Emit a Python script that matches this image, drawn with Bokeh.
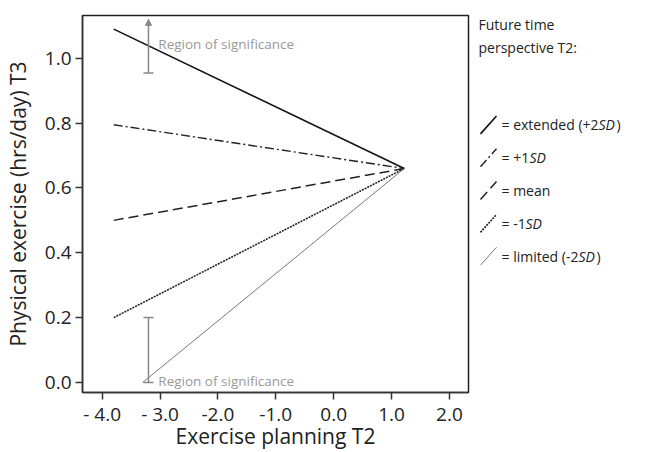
from bokeh.plotting import figure
from bokeh.layouts import row
from bokeh.models import Range1d, FixedTicker, Arrow, TeeHead, NormalHead, Label
from bokeh.embed import file_html
from bokeh.resources import INLINE

FONT = "Open Sans"

# Data
series_names = ["extended (+2SD)", "+1SD", "mean", "-1SD", "limited (-2SD)"]
x_start = [-3.8, -3.8, -3.8, -3.8, -3.3]
y_start = [1.09, 0.795, 0.50, 0.20, 0.0]
x_end = [1.22, 1.22, 1.22, 1.22, 1.22]
y_end = [0.66, 0.66, 0.66, 0.66, 0.66]

x_ticks = [-4, -3, -2, -1, 0, 1, 2]
x_tick_labels = ["- 4.0", "- 3.0", "-2.0", "-1.0", "0.0", "1.0", "2.0"]
y_ticks = [0.0, 0.2, 0.4, 0.6, 0.8, 1.0]

sig_x = [-3.2, -3.2]
sig_low = [0.955, 0.0]
sig_high = [1.12, 0.2]
sig_text_x = [-3.03, -3.03]
sig_text_y = [1.045, 0.005]

X0, X1 = -4.34, 2.33
Y0, Y1 = -0.031, 1.132
FL, FR, FT, FB = 82, 468, 15, 394  # intended frame in page pixels
W, H = 640, 452
MAIN_W = FR + 4

styles = [
    dict(line_color="#111111", line_width=1.6, line_dash="solid"),
    dict(line_color="#222222", line_width=1.4, line_dash="9 3 2 3"),
    dict(line_color="#222222", line_width=1.5, line_dash="10 5"),
    dict(line_color="#222222", line_width=1.6, line_dash="2 1"),
    dict(line_color="#777777", line_width=1.0, line_dash="solid"),
]

p = figure(width=MAIN_W, height=H, output_backend="svg", toolbar_location=None,
           x_range=Range1d(X0, X1), y_range=Range1d(Y0, Y1),
           min_border_left=FL, min_border_right=MAIN_W - FR, min_border_top=FT,
           min_border_bottom=H - FB)
p.grid.visible = False
p.outline_line_color = "#222222"
p.outline_line_width = 1.5
p.background_fill_color = "white"
p.border_fill_color = "white"

for i in range(5):
    p.line([x_start[i], x_end[i]], [y_start[i], y_end[i]], **styles[i])

# Region of significance markers
GRAY = "#888888"
p.add_layout(Arrow(x_start=sig_x[0], y_start=sig_low[0], x_end=sig_x[0], y_end=sig_high[0],
                   line_color=GRAY, line_width=1.5,
                   start=TeeHead(size=10, line_color=GRAY, line_width=1.5),
                   end=NormalHead(size=6, line_color=GRAY, fill_color=GRAY)))
p.add_layout(Arrow(x_start=sig_x[1], y_start=sig_low[1], x_end=sig_x[1], y_end=sig_high[1],
                   line_color=GRAY, line_width=1.5,
                   start=TeeHead(size=10, line_color=GRAY, line_width=1.5),
                   end=TeeHead(size=10, line_color=GRAY, line_width=1.5)))
for tx, ty in zip(sig_text_x, sig_text_y):
    p.add_layout(Label(x=tx, y=ty, text="Region of significance", text_font=FONT,
                       text_font_size="13.5px", text_color="#999999", text_baseline="middle"))

# Axes
p.xaxis.ticker = FixedTicker(ticks=x_ticks)
p.xaxis.major_label_overrides = {t: l for t, l in zip(x_ticks, x_tick_labels)}
p.yaxis.ticker = FixedTicker(ticks=y_ticks)
p.yaxis.major_label_overrides = {t: f"{t:.1f}" for t in y_ticks}
for ax in (p.xaxis, p.yaxis):
    ax.axis_line_color = "#333333"
    ax.axis_line_width = 1.5
    ax.major_tick_line_color = "#333333"
    ax.major_tick_line_width = 1.5
    ax.major_tick_out = 7
    ax.major_tick_in = 0
    ax.minor_tick_line_color = None
    ax.major_label_text_font = FONT
    ax.major_label_text_font_size = "19px"
    ax.major_label_text_color = "#222222"
    ax.axis_label_text_font = FONT
    ax.axis_label_text_font_size = "21px"
    ax.axis_label_text_font_style = "normal"
    ax.axis_label_text_color = "#222222"
p.xaxis.axis_label = "Exercise planning T2"
p.yaxis.axis_label = "Physical exercise (hrs/day) T3"
p.xaxis.major_label_standoff = 1
p.xaxis.axis_label_standoff = -8
p.yaxis.major_label_standoff = 4
p.yaxis.axis_label_standoff = 10

# Legend panel (page-pixel coordinates)
LEG_FS = "14px"
leg_prefix = ["= extended (+2", "= +1", "= mean", "= -1", "= limited (-2"]
leg_italic = ["SD", "SD", "", "SD", "SD"]
leg_suffix = [")", "", "", "", ")"]
leg_sd_offset = [97, 28, 0, 24, 77]
leg_py = [125, 158, 191, 224, 257]

lg = figure(width=W - MAIN_W, height=H, output_backend="svg", toolbar_location=None,
            x_range=Range1d(MAIN_W, W), y_range=Range1d(FB, FT),
            x_axis_location=None, y_axis_location=None,
            min_border_left=0, min_border_right=0, min_border_top=FT, min_border_bottom=H - FB)
lg.grid.visible = False
lg.outline_line_color = None
lg.border_fill_color = "white"

lg.add_layout(Label(x=478, y=24, text="Future time", text_font=FONT, text_font_size=LEG_FS,
                    text_color="#222222", text_baseline="middle"))
lg.add_layout(Label(x=478, y=47, text="perspective T2:", text_font=FONT, text_font_size=LEG_FS,
                    text_color="#222222", text_baseline="middle"))
for i in range(5):
    yy = leg_py[i]
    lg.line([480, 496], [yy + 9, yy - 9], **styles[i])
    tx = 501
    lg.add_layout(Label(x=tx, y=yy, text=leg_prefix[i], text_font=FONT, text_font_size=LEG_FS,
                        text_color="#222222", text_baseline="middle"))
    if leg_italic[i]:
        lg.add_layout(Label(x=tx + leg_sd_offset[i], y=yy, text=leg_italic[i], text_font=FONT,
                            text_font_size=LEG_FS, text_font_style="italic",
                            text_color="#222222", text_baseline="middle"))
    if leg_suffix[i]:
        lg.add_layout(Label(x=tx + leg_sd_offset[i] + 18, y=yy, text=leg_suffix[i], text_font=FONT,
                            text_font_size=LEG_FS, text_color="#222222", text_baseline="middle"))

layout = row(p, lg)
open("out.html", "w").write(file_html(layout, INLINE))
